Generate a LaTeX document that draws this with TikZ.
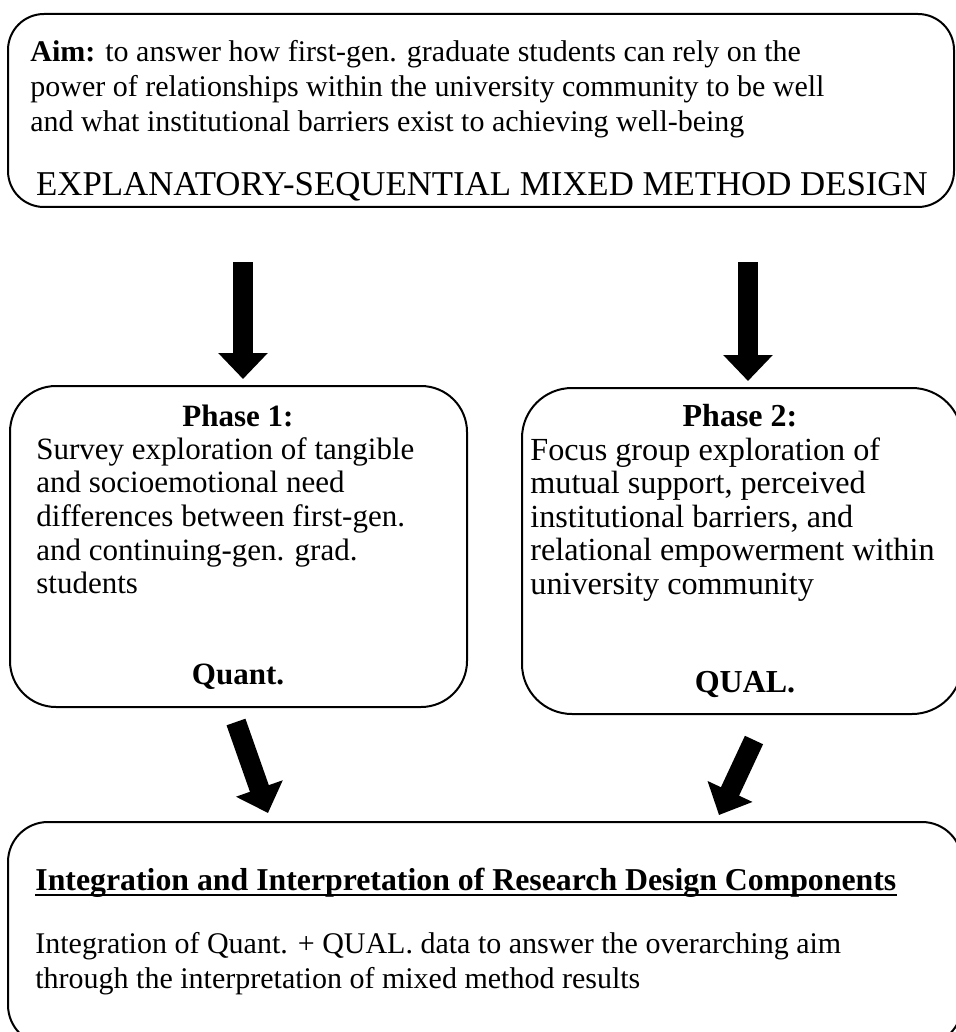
\documentclass[tikz,border=0pt]{standalone}
\usepackage{fontspec}
\setmainfont{Liberation Serif}
\usetikzlibrary{arrows.meta}
\begin{document}
\begin{tikzpicture}[x=0.5pt,y=-0.5pt,
        caja/.style={draw,line width=1pt,rounded corners=#1,inner sep=0pt},
        caja/.default=20pt,
        texto/.style={inner sep=0pt,font=\fontsize{#1}{17.6}\selectfont},
        texto/.default=15.5,
        flecha/.style={line width=10pt,-{Triangle[width=24pt,length=13pt]}}]
        %marco
        \useasboundingbox (0,0) rectangle (956,1032);

        %cajas
        \node[caja=18pt,minimum width=473pt,minimum height=96.5pt] (aim) at (481,110.5) {};
        \node[caja=23pt,minimum width=228.5pt,minimum height=160.5pt] (ph1) at (238.5,546.5) {};
        \node[caja=25pt,minimum width=220pt,minimum height=163pt] (ph2) at (742,551) {};
        \node[caja=20pt,minimum width=477pt,minimum height=111.5pt] (res) at (485,933.5) {};

        %textos
        \node[texto=15,anchor=north west,align=left] (aimtxt) at (30,40)
            {\textbf{Aim:} to answer how first-gen. graduate students can rely on the\\
             power of relationships within the university community to be well\\
             and what institutional barriers exist to achieving well-being};
        \node[texto=17.4,anchor=base] (design) at (482,196) {EXPLANATORY-SEQUENTIAL MIXED METHOD DESIGN};

        \node[texto,anchor=base] (ph1tit) at (238,426) {\textbf{Phase 1:}};
        \node[texto,anchor=north west,align=left,font=\fontsize{15.5}{16.8}\selectfont] (ph1txt) at (36,437)
            {Survey exploration of tangible\\
             and socioemotional need\\
             differences between first-gen.\\
             and continuing-gen. grad.\\
             students};
        \node[texto,anchor=base] (quant) at (238,684) {\textbf{Quant.}};

        \node[texto=16,anchor=base] (ph2tit) at (740,426) {\textbf{Phase 2:}};
        \node[texto,anchor=north west,align=left,font=\fontsize{16.1}{16.8}\selectfont] (ph2txt) at (530,437)
            {Focus group exploration of\\
             mutual support, perceived\\
             institutional barriers, and\\
             relational empowerment within\\
             university community};
        \node[texto=16,anchor=base] (qual) at (745,692) {\textbf{QUAL.}};

        \node[texto=15.9,anchor=base west] (restit) at (35,890)
            {\textbf{Integration and Interpretation of Research Design Components}};
        \draw[line width=1.4pt] ([yshift=-2.5pt]restit.base west) -- ([yshift=-2.5pt]restit.base east);
        \node[texto=15,anchor=north west,align=left] (restxt) at (35,932)
            {Integration of Quant. + QUAL. data to answer the overarching aim\\
             through the interpretation of mixed method results};

        %flechas
        \coordinate (f1) at (243,262);
        \coordinate (f2) at (748,262);
        \draw[flecha] (f1) -- ([yshift=3pt]f1 |- ph1.north);
        \draw[flecha] (f2) -- ([yshift=3pt]f2 |- ph2.north);
        \coordinate (f3) at (236,722);
        \coordinate (f4) at (754,740);
        \draw[flecha] (f3) -- ([yshift=4pt]268,0 |- res.north);
        \draw[flecha] (f4) -- ([yshift=3pt]719,0 |- res.north);
    \end{tikzpicture}
\end{document}
